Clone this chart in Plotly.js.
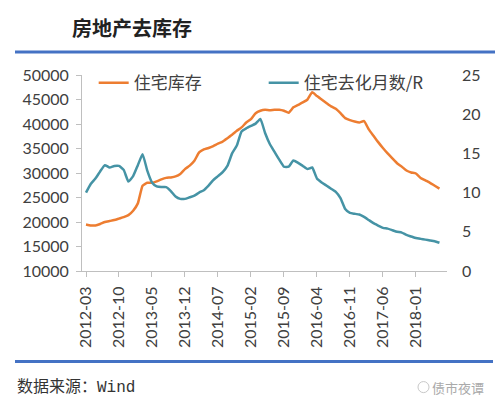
<!DOCTYPE html>
<html>
<head>
<meta charset="utf-8">
<script src="https://cdn.plot.ly/plotly-3.0.1.min.js"></script>
<style>
html,body{margin:0;padding:0;background:#fff;}
#chart{width:500px;height:405px;}
</style>
</head>
<body>
<div id="chart"></div>
<script>
// Categories: months 2012-03 .. 2018-06
var months = [
  "2012-03","2012-04","2012-05","2012-06","2012-07","2012-08","2012-09","2012-10","2012-11","2012-12",
  "2013-01","2013-02","2013-03","2013-04","2013-05","2013-06","2013-07","2013-08","2013-09","2013-10","2013-11","2013-12",
  "2014-01","2014-02","2014-03","2014-04","2014-05","2014-06","2014-07","2014-08","2014-09","2014-10","2014-11","2014-12",
  "2015-01","2015-02","2015-03","2015-04","2015-05","2015-06","2015-07","2015-08","2015-09","2015-10","2015-11","2015-12",
  "2016-01","2016-02","2016-03","2016-04","2016-05","2016-06","2016-07","2016-08","2016-09","2016-10","2016-11","2016-12",
  "2017-01","2017-02","2017-03","2017-04","2017-05","2017-06","2017-07","2017-08","2017-09","2017-10","2017-11","2017-12",
  "2018-01","2018-02","2018-03","2018-04","2018-05","2018-06"
];
// 住宅库存 (left axis)
var inventory = [
  19500,19300,19300,19600,20000,20200,20400,20700,21000,21400,
  22300,23800,27400,28000,28000,28300,28700,29000,29100,29300,29800,30800,
  31500,32500,34200,34800,35100,35500,36000,36400,37100,37800,38600,39300,
  40300,41000,42200,42700,42900,42800,42900,42900,42700,42300,43400,43900,
  44400,45000,46500,45700,45000,44300,43600,43100,42200,41200,40800,40500,
  40300,40600,38900,37600,36300,35100,34000,33000,32000,31300,30500,30100,
  29900,29000,28500,28000,27400,26800
];
// 住宅去化月数 (right axis)
var monthsToClear = [
  10.0,11.1,11.8,12.7,13.5,13.2,13.4,13.4,12.9,11.4,
  12.1,13.5,14.9,12.8,11.3,10.8,10.7,10.7,10.2,9.5,9.2,9.2,
  9.4,9.6,10.0,10.3,10.9,11.6,12.1,12.6,13.4,15.0,16.0,17.8,
  18.2,18.5,18.8,19.4,17.6,16.2,15.2,14.2,13.3,13.3,14.1,13.8,
  13.4,13.0,13.2,11.8,11.3,10.9,10.5,10.1,9.3,7.9,7.4,7.3,
  7.2,6.9,6.5,6.1,5.8,5.5,5.4,5.2,5.0,4.9,4.6,4.4,
  4.2,4.1,4.0,3.9,3.8,3.6
];
var xTicks = ["2012-03","2012-10","2013-05","2013-12","2014-07","2015-02","2015-09","2016-04","2016-11","2017-06","2018-01"];
var seriesNames = ["住宅库存","住宅去化月数/R"];
var chartTitle = "房地产去库存";
var sourceText = "数据来源：Wind";
var watermark = "债市夜谭";

var numFont = "Lato, 'Noto Sans CJK SC', sans-serif";
var cjkFont = "'Noto Sans CJK SC', sans-serif";

var traces = [
  {x: months, y: inventory, name: seriesNames[0], type: "scatter", mode: "lines",
   line: {color: "#ED7D31", width: 2.5, shape: "spline", smoothing: 0.4}, yaxis: "y"},
  {x: months, y: monthsToClear, name: seriesNames[1], type: "scatter", mode: "lines",
   line: {color: "#4593A5", width: 2.5, shape: "spline", smoothing: 0.4}, yaxis: "y2"}
];

var layout = {
  width: 500, height: 405,
  margin: {l: 82, r: 53, t: 75, b: 134},
  paper_bgcolor: "#fff", plot_bgcolor: "#fff",
  showlegend: true,
  font: {family: numFont, color: "#404040", size: 16},
  title: {text: chartTitle, xref: "container", yref: "container", x: 72/500, xanchor: "left",
          y: 1 - 29/405, yanchor: "middle",
          font: {family: cjkFont, size: 20, color: "#222", weight: "bold"}},
  xaxis: {type: "category", range: [-0.85, 76.6], tickmode: "array", tickvals: xTicks, ticktext: xTicks,
          tickangle: -90, ticks: "outside", ticklen: 5, tickcolor: "#bfbfbf", showline: true,
          linecolor: "#bfbfbf", linewidth: 1, showgrid: false, zeroline: false,
          tickfont: {family: numFont, size: 16, color: "#404040"}, ticklabelstandoff: 3},
  yaxis: {range: [10000, 50000], dtick: 5000, tick0: 10000, tickformat: "d", ticks: "outside", ticklen: 5,
          tickcolor: "#bfbfbf", showline: true, linecolor: "#bfbfbf", linewidth: 1,
          showgrid: false, zeroline: false, tickfont: {family: numFont, size: 16, color: "#404040"},
          ticklabelstandoff: 4},
  yaxis2: {range: [0, 25], dtick: 5, overlaying: "y", side: "right", showline: false, ticks: "",
           showgrid: false, zeroline: false, tickfont: {family: numFont, size: 16, color: "#404040"},
           ticklabelstandoff: 14},
  legend: {orientation: "h", x: 0.032, xanchor: "left", y: 0.9586, yanchor: "middle",
           bgcolor: "rgba(0,0,0,0)", font: {family: cjkFont, size: 17, color: "#404040"},
           entrywidth: 125, entrywidthmode: "pixels", itemwidth: 30, traceorder: "normal"},
  shapes: [
    {type: "line", xref: "paper", yref: "paper", x0: (15-82)/365, x1: (495-82)/365,
     y0: (271-53)/195, y1: (271-53)/195, line: {color: "#4472C4", width: 3}},
    {type: "line", xref: "paper", yref: "paper", x0: (15-82)/365, x1: (493-82)/365,
     y0: (271-361)/195, y1: (271-361)/195, line: {color: "#4472C4", width: 3}},
    {type: "circle", xref: "paper", yref: "paper", x0: (418-82)/365, x1: (429-82)/365,
     y0: (271-392)/195, y1: (271-381)/195, line: {color: "#c8c8c8", width: 1}}
  ],
  annotations: [
    {text: sourceText, xref: "paper", yref: "paper", x: (15-82)/365, y: (271-387)/195,
     xanchor: "left", yanchor: "middle", showarrow: false,
     font: {family: "'Liberation Mono', 'Noto Sans CJK SC', monospace", size: 16, color: "#333"}},
    {text: watermark, xref: "paper", yref: "paper", x: (486-82)/365, y: (271-387)/195,
     xanchor: "right", yanchor: "middle", showarrow: false,
     font: {family: cjkFont, size: 13, color: "#aaa"}}
  ]
};

Plotly.newPlot("chart", traces, layout, {displayModeBar: false, staticPlot: true});
</script>
</body>
</html>
